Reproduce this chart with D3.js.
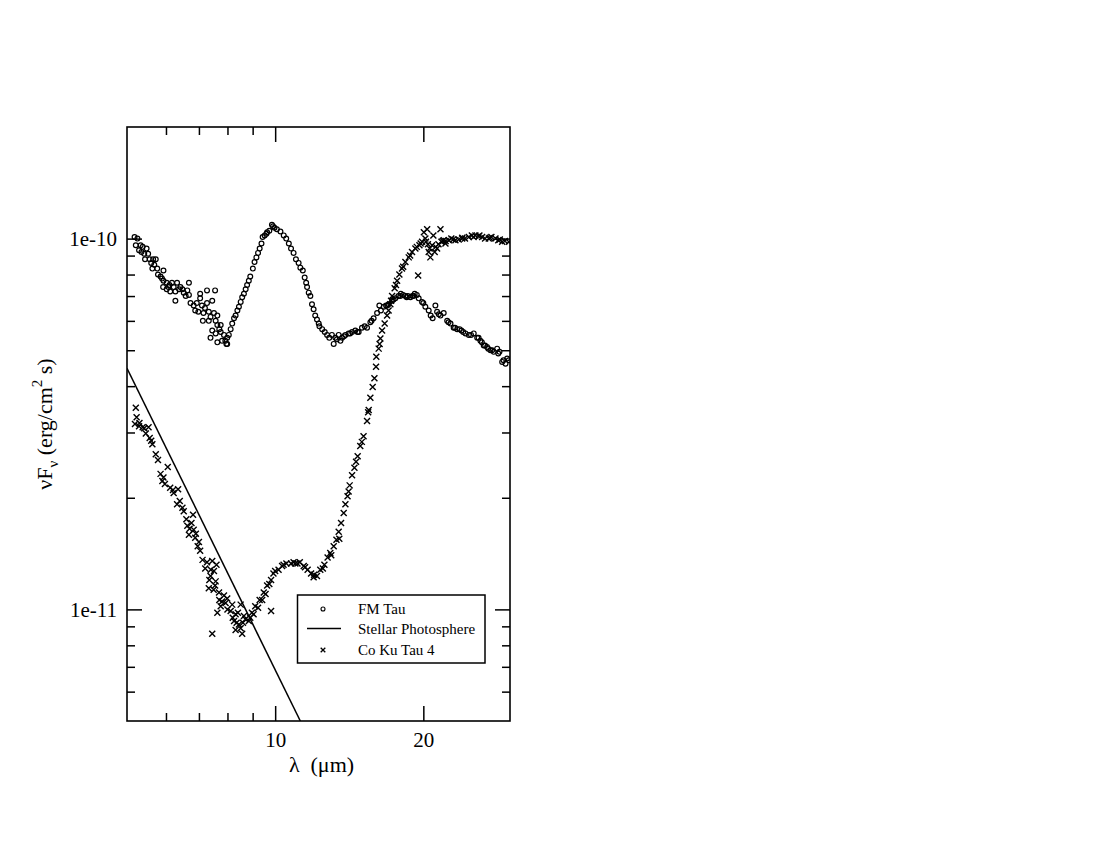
<!DOCTYPE html>
<html><head><meta charset="utf-8">
<script src="https://cdn.jsdelivr.net/npm/d3@7"></script>
<style>
body{margin:0;background:#fff;}
svg text{font-family:"Liberation Serif","Times New Roman",serif;fill:#000;}
</style>
</head><body>
<svg id="chart" width="1100" height="850"></svg>
<script>
// ---- data (wavelength in micron, nuF_nu in erg/cm^2/s) ----
const fmTauWave = [5.18,5.21,5.25,5.29,5.33,5.35,5.42,5.44,5.48,5.52,5.56,5.63,5.65,5.72,5.76,5.78,5.85,5.89,5.92,5.93,5.93,6.02,6.02,6.07,6.12,6.17,6.22,6.27,6.27,6.32,6.42,6.48,6.52,6.63,6.68,6.68,6.73,6.83,6.88,6.93,6.98,7.04,7.04,7.10,7.13,7.15,7.27,7.27,7.33,7.33,7.39,7.39,7.45,7.45,7.51,7.55,7.57,7.57,7.63,7.63,7.63,7.75,7.75,7.87,7.96,7.99,7.99,8.05,8.12,8.18,8.25,8.31,8.38,8.44,8.51,8.57,8.64,8.71,8.77,8.84,8.90,9.01,9.08,9.16,9.23,9.30,9.38,9.43,9.52,9.63,9.73,9.85,9.97,10.08,10.25,10.41,10.53,10.66,10.77,10.90,11.02,11.16,11.25,11.38,11.48,11.56,11.61,11.70,11.79,11.88,11.97,12.06,12.16,12.26,12.46,12.61,12.75,12.88,13.04,13.15,13.25,13.46,13.57,13.68,13.89,14.10,14.2,14.33,14.55,14.7,14.78,15.01,15.2,15.37,15.61,15.7,15.85,16.11,16.28,16.4,16.62,16.8,17.0,17.28,17.4,17.55,17.8,17.96,18.2,18.39,18.6,18.83,19.0,19.21,19.4,19.57,19.88,20.19,20.51,20.89,21.16,21.33,21.67,22.0,22.36,22.5,22.71,23.05,23.2,23.43,23.9,24.1,24.36,24.74,25.0,25.32,25.73,25.9,26.12,26.53,26.7,26.95,27.38,27.6,27.8,28.25,28.4,28.56,28.92,29.1,29.38,29.83,
  5.38,5.6,5.68,6.1,6.38,6.58,7.2,7.7,7.8,7.92,9.6,9.9,12.3,13.35,13.8,16.9,18.0,18.5,19.1,20.0,20.7,21.5,23.7,26.3,27.1,29.6];
const fmTauFlux = [1.01e-10,0.96e-10,1.00e-10,0.93e-10,0.96e-10,0.92e-10,0.91e-10,0.88e-10,0.94e-10,0.91e-10,0.88e-10,0.83e-10,0.88e-10,0.88e-10,0.83e-10,0.80e-10,0.79e-10,0.78e-10,0.74e-10,0.82e-10,0.77e-10,0.76e-10,0.73e-10,0.74e-10,0.72e-10,0.76e-10,0.74e-10,0.72e-10,0.68e-10,0.76e-10,0.74e-10,0.73e-10,0.715e-10,0.725e-10,0.76e-10,0.705e-10,0.67e-10,0.66e-10,0.64e-10,0.67e-10,0.635e-10,0.71e-10,0.69e-10,0.66e-10,0.60e-10,0.63e-10,0.725e-10,0.67e-10,0.635e-10,0.60e-10,0.615e-10,0.54e-10,0.68e-10,0.565e-10,0.63e-10,0.725e-10,0.60e-10,0.555e-10,0.62e-10,0.585e-10,0.525e-10,0.585e-10,0.56e-10,0.55e-10,0.52e-10,0.54e-10,0.52e-10,0.55e-10,0.57e-10,0.59e-10,0.61e-10,0.62e-10,0.64e-10,0.655e-10,0.675e-10,0.695e-10,0.71e-10,0.73e-10,0.75e-10,0.77e-10,0.79e-10,0.83e-10,0.865e-10,0.89e-10,0.915e-10,0.94e-10,0.97e-10,1.01e-10,1.02e-10,1.04e-10,1.05e-10,1.09e-10,1.07e-10,1.06e-10,1.045e-10,1.02e-10,1.00e-10,0.97e-10,0.94e-10,0.915e-10,0.88e-10,0.86e-10,0.835e-10,0.82e-10,0.785e-10,0.76e-10,0.74e-10,0.715e-10,0.70e-10,0.665e-10,0.645e-10,0.62e-10,0.605e-10,0.59e-10,0.57e-10,0.56e-10,0.55e-10,0.54e-10,0.55e-10,0.52e-10,0.54e-10,0.55e-10,0.53e-10,0.54e-10,0.55e-10,0.555e-10,0.555e-10,0.56e-10,0.565e-10,0.56e-10,0.56e-10,0.575e-10,0.58e-10,0.575e-10,0.595e-10,0.60e-10,0.61e-10,0.63e-10,0.66e-10,0.64e-10,0.655e-10,0.66e-10,0.665e-10,0.68e-10,0.685e-10,0.69e-10,0.70e-10,0.70e-10,0.705e-10,0.70e-10,0.70e-10,0.695e-10,0.70e-10,0.71e-10,0.705e-10,0.69e-10,0.675e-10,0.655e-10,0.64e-10,0.61e-10,0.66e-10,0.635e-10,0.62e-10,0.63e-10,0.60e-10,0.595e-10,0.59e-10,0.575e-10,0.575e-10,0.57e-10,0.565e-10,0.56e-10,0.555e-10,0.55e-10,0.55e-10,0.555e-10,0.54e-10,0.54e-10,0.53e-10,0.515e-10,0.515e-10,0.51e-10,0.50e-10,0.50e-10,0.495e-10,0.505e-10,0.49e-10,0.495e-10,0.465e-10,0.47e-10,0.46e-10,0.47e-10,
  0.95e-10,0.86e-10,0.85e-10,0.75e-10,0.73e-10,0.70e-10,0.65e-10,0.57e-10,0.53e-10,0.53e-10,1.03e-10,1.08e-10,0.58e-10,0.535e-10,0.545e-10,0.66e-10,0.71e-10,0.695e-10,0.70e-10,0.67e-10,0.62e-10,0.625e-10,0.57e-10,0.525e-10,0.505e-10,0.475e-10];

const cokuWave = [5.19,5.21,5.23,5.29,5.42,5.46,5.53,5.56,5.63,5.72,5.78,5.85,5.93,5.97,6.05,6.12,6.22,6.32,6.35,6.48,6.52,6.63,6.68,6.76,6.81,6.83,6.88,6.96,7.04,7.12,7.21,7.27,7.33,7.39,7.45,7.45,7.51,7.55,7.57,7.60,7.63,7.69,7.75,7.87,7.93,7.99,8.12,8.18,8.25,8.31,8.31,8.44,8.51,8.51,8.57,8.64,8.84,8.97,9.04,9.11,9.23,9.30,9.41,9.48,9.56,9.63,9.73,9.81,9.81,9.92,10.16,10.33,10.54,10.77,10.99,11.22,11.43,11.64,11.83,11.97,12.16,12.35,12.59,12.78,12.94,13.15,13.32,13.46,13.61,13.78,13.89,14.03,14.17,14.33,14.49,14.71,14.89,15.12,15.37,15.49,15.61,15.78,15.91,16.03,16.05,16.23,16.36,16.49,16.69,16.88,17.0,17.14,17.28,17.49,17.69,17.88,18.1,18.39,18.68,18.97,19.27,19.52,19.64,19.88,20.05,20.19,20.36,20.43,20.51,20.67,20.84,20.96,21.09,21.33,21.47,21.67,21.77,22.0,22.18,22.2,22.53,22.8,23.24,23.6,23.98,24.3,24.74,25.1,25.52,25.9,26.33,26.7,27.16,27.5,28.03,28.4,28.92,29.3,29.83,
  5.3,5.38,5.6,5.9,6.2,6.4,6.6,6.7,6.9,7.0,7.35,7.4,7.5,7.7,7.8,8.0,8.2,8.35,8.4,8.6,8.7,8.9,10.0,10.4,10.9,11.1,11.5,12.0,12.5,13.0,13.5,14.1,14.6,15.0,15.45,16.3,17.2,17.6,18.2,18.8,19.4,19.75,20.25,20.6,21.2,21.9,23.0,24.0,25.3,26.0,27.3,28.6];
const cokuFlux = [0.316e-10,0.35e-10,0.33e-10,0.312e-10,0.308e-10,0.298e-10,0.31e-10,0.29e-10,0.279e-10,0.262e-10,0.253e-10,0.232e-10,0.227e-10,0.218e-10,0.242e-10,0.213e-10,0.206e-10,0.192e-10,0.211e-10,0.188e-10,0.184e-10,0.168e-10,0.159e-10,0.171e-10,0.18e-10,0.164e-10,0.156e-10,0.148e-10,0.144e-10,0.136e-10,0.129e-10,0.134e-10,0.114e-10,0.123e-10,0.135e-10,0.086e-10,0.127e-10,0.116e-10,0.119e-10,0.132e-10,0.098e-10,0.111e-10,0.102e-10,0.109e-10,0.104e-10,0.107e-10,0.099e-10,0.103e-10,0.093e-10,0.097e-10,0.088e-10,0.091e-10,0.103e-10,0.089e-10,0.086e-10,0.096e-10,0.093e-10,0.098e-10,0.097e-10,0.102e-10,0.101e-10,0.106e-10,0.106e-10,0.111e-10,0.11e-10,0.116e-10,0.117e-10,0.12e-10,0.099e-10,0.125e-10,0.128e-10,0.131e-10,0.133e-10,0.133e-10,0.133e-10,0.134e-10,0.131e-10,0.128e-10,0.125e-10,0.122e-10,0.123e-10,0.128e-10,0.132e-10,0.138e-10,0.142e-10,0.148e-10,0.154e-10,0.162e-10,0.171e-10,0.182e-10,0.192e-10,0.202e-10,0.216e-10,0.23e-10,0.241e-10,0.259e-10,0.276e-10,0.293e-10,0.322e-10,0.345e-10,0.372e-10,0.398e-10,0.42e-10,0.451e-10,0.48e-10,0.505e-10,0.538e-10,0.565e-10,0.59e-10,0.62e-10,0.64e-10,0.665e-10,0.70e-10,0.735e-10,0.77e-10,0.80e-10,0.83e-10,0.865e-10,0.89e-10,0.92e-10,0.94e-10,0.795e-10,0.96e-10,0.98e-10,1.04e-10,1.0e-10,1.06e-10,0.965e-10,0.92e-10,0.89e-10,0.96e-10,1.02e-10,0.92e-10,0.94e-10,0.965e-10,1.06e-10,0.98e-10,0.99e-10,0.97e-10,0.985e-10,0.99e-10,1.0e-10,0.99e-10,0.995e-10,1.0e-10,1.0e-10,1.01e-10,1.02e-10,1.02e-10,1.015e-10,1.01e-10,1.0e-10,1.0e-10,1.01e-10,1.0e-10,0.99e-10,0.98e-10,0.985e-10,0.98e-10,
  0.318e-10,0.31e-10,0.285e-10,0.222e-10,0.21e-10,0.196e-10,0.175e-10,0.165e-10,0.16e-10,0.152e-10,0.12e-10,0.128e-10,0.113e-10,0.106e-10,0.105e-10,0.10e-10,0.095e-10,0.092e-10,0.098e-10,0.092e-10,0.094e-10,0.095e-10,0.127e-10,0.132e-10,0.134e-10,0.133e-10,0.13e-10,0.124e-10,0.129e-10,0.14e-10,0.155e-10,0.208e-10,0.25e-10,0.283e-10,0.34e-10,0.52e-10,0.68e-10,0.75e-10,0.84e-10,0.90e-10,0.95e-10,0.97e-10,0.98e-10,0.94e-10,0.95e-10,0.985e-10,0.995e-10,1.005e-10,1.01e-10,1.02e-10,1.005e-10,0.995e-10];

const photoWave = [5.0, 11.25];
const photoFlux = [4.47e-11, 5.0e-12];

const xMajorTicks = [10, 20];
const xMinorTicks = [6, 7, 8, 9];
const yMajorTicks = [1e-11, 1e-10];
const yMajorLabels = ["1e-11", "1e-10"];
const yMinorTicks = [6e-12, 7e-12, 8e-12, 9e-12, 2e-11, 3e-11, 4e-11, 5e-11, 6e-11, 7e-11, 8e-11, 9e-11];
const legendLabels = ["FM Tau", "Stellar Photosphere", "Co Ku Tau 4"];

// ---- layout ----
const L = 127, R = 510, T = 127, B = 721;
const svg = d3.select("#chart");
const x = d3.scaleLog().domain([5, 30]).range([L, R]);
const y = d3.scaleLog().domain([5e-12, 2e-10]).range([B, T]);

svg.append("defs").append("clipPath").attr("id", "clip")
  .append("rect").attr("x", L).attr("y", T).attr("width", R - L).attr("height", B - T);

function styleAxis(g) {
  g.select(".domain").remove();
  g.selectAll("line").attr("stroke", "#000").attr("stroke-width", 1.5);
  g.selectAll("text").attr("font-family", '"Liberation Serif","Times New Roman",serif').attr("font-size", 21).attr("fill", "#000");
}

// bottom
svg.append("g").attr("transform", `translate(0,${B})`)
  .call(d3.axisBottom(x).tickValues(xMajorTicks).tickSize(-15).tickPadding(11).tickFormat(d3.format("d"))).call(styleAxis);
svg.append("g").attr("transform", `translate(0,${B})`)
  .call(d3.axisBottom(x).tickValues(xMinorTicks).tickSize(-8).tickFormat("")).call(styleAxis);
// top
svg.append("g").attr("transform", `translate(0,${T})`)
  .call(d3.axisTop(x).tickValues(xMajorTicks).tickSize(-15).tickFormat("")).call(styleAxis);
svg.append("g").attr("transform", `translate(0,${T})`)
  .call(d3.axisTop(x).tickValues(xMinorTicks).tickSize(-8).tickFormat("")).call(styleAxis);
// left
svg.append("g").attr("transform", `translate(${L},0)`)
  .call(d3.axisLeft(y).tickValues(yMajorTicks).tickSize(-15).tickPadding(10).tickFormat((d, i) => yMajorLabels[i])).call(styleAxis);
svg.append("g").attr("transform", `translate(${L},0)`)
  .call(d3.axisLeft(y).tickValues(yMinorTicks).tickSize(-8).tickFormat("")).call(styleAxis);
// right
svg.append("g").attr("transform", `translate(${R},0)`)
  .call(d3.axisRight(y).tickValues(yMajorTicks).tickSize(-15).tickFormat("")).call(styleAxis);
svg.append("g").attr("transform", `translate(${R},0)`)
  .call(d3.axisRight(y).tickValues(yMinorTicks).tickSize(-8).tickFormat("")).call(styleAxis);

// data layer
const plot = svg.append("g").attr("clip-path", "url(#clip)");

const photo = photoWave.map((w, i) => [w, photoFlux[i]]);
plot.append("path").datum(photo)
  .attr("d", d3.line().x(d => x(d[0])).y(d => y(d[1])))
  .attr("fill", "none").attr("stroke", "#000").attr("stroke-width", 1.5);

const xMark = "M-3,-3L3,3M-3,3L3,-3";
plot.append("g").selectAll("path").data(cokuWave.map((w, i) => [w, cokuFlux[i]]))
  .join("path").attr("d", xMark)
  .attr("transform", d => `translate(${x(d[0])},${y(d[1])})`)
  .attr("fill", "none").attr("stroke", "#000").attr("stroke-width", 1.4);

plot.append("g").selectAll("circle").data(fmTauWave.map((w, i) => [w, fmTauFlux[i]]))
  .join("circle").attr("cx", d => x(d[0])).attr("cy", d => y(d[1])).attr("r", 2.4)
  .attr("fill", "none").attr("stroke", "#000").attr("stroke-width", 1.2);

// frame
svg.append("rect").attr("x", L).attr("y", T).attr("width", R - L).attr("height", B - T)
  .attr("fill", "none").attr("stroke", "#000").attr("stroke-width", 1.6);

// axis titles
svg.append("text").attr("x", (L + R) / 2 + 3).attr("y", 772).attr("text-anchor", "middle")
  .attr("font-size", 22).style("white-space", "pre").text("λ  (μm)");

const yt = svg.append("text").attr("transform", `translate(52,${(T + B) / 2}) rotate(-90)`)
  .attr("text-anchor", "middle").attr("font-size", 22);
yt.append("tspan").text("νF");
yt.append("tspan").attr("font-size", 15).attr("dy", 6).text("ν");
yt.append("tspan").attr("dy", -6).style("white-space", "pre").text(" (erg/cm");
yt.append("tspan").attr("font-size", 15).attr("dy", -10).text("2");
yt.append("tspan").attr("dy", 10).style("white-space", "pre").text(" s)");

// legend
const lg = svg.append("g");
lg.append("rect").attr("x", 297.5).attr("y", 595).attr("width", 187.5).attr("height", 68)
  .attr("fill", "#fff").attr("stroke", "#000").attr("stroke-width", 1.5);
const rows = [609, 628.5, 650];
lg.append("circle").attr("cx", 323).attr("cy", rows[0]).attr("r", 2).attr("fill", "none").attr("stroke", "#000").attr("stroke-width", 1.1);
lg.append("line").attr("x1", 307).attr("x2", 341).attr("y1", rows[1]).attr("y2", rows[1]).attr("stroke", "#000").attr("stroke-width", 1.5);
lg.append("path").attr("d", "M-2.3,-2.3L2.3,2.3M-2.3,2.3L2.3,-2.3").attr("transform", `translate(323,${rows[2]})`).attr("stroke", "#000").attr("stroke-width", 1.3);
legendLabels.forEach((t, i) => {
  lg.append("text").attr("x", 358).attr("y", rows[i] + 5).attr("font-size", 15).text(t);
});
</script>
</body></html>
